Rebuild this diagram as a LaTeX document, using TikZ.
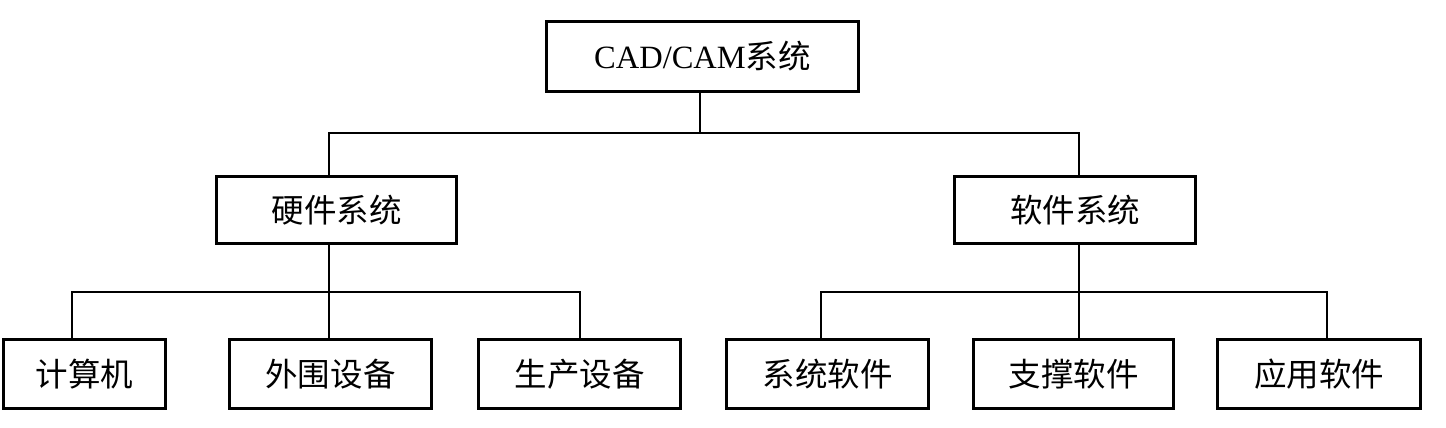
\documentclass[tikz,border=0pt]{standalone}
\usepackage{fontspec}
\setmainfont{Liberation Serif}
\newfontfamily\cjk{Noto Sans CJK SC}
\usepackage{tikz}

\tikzset{
  sysbox/.style={draw=black,line width=1.7pt,rectangle,fill=white,inner sep=0pt,
    font=\fontsize{18.5}{21}\selectfont\cjk},
  link/.style={draw=black,line width=1.1pt}
}

\begin{document}
\begin{tikzpicture}[x=0.02cm,y=-0.02cm]
\useasboundingbox (0,0) rectangle (1446,428);

\node[sysbox,minimum width=6.24cm,minimum height=1.40cm] (cad) at (702.5,56.5) {{\fontspec{Liberation Serif}CAD/CAM}系统};

\node[sysbox,minimum width=4.80cm,minimum height=1.34cm] (hw) at (336.5,210) {硬件系统};
\node[sysbox,minimum width=4.82cm,minimum height=1.34cm] (sw) at (1075,210) {软件系统};

\node[sysbox,minimum width=3.24cm,minimum height=1.38cm] (pc) at (84.5,374) {计算机};
\node[sysbox,minimum width=4.04cm,minimum height=1.38cm] (ew) at (330.5,374) {外围设备};
\node[sysbox,minimum width=4.04cm,minimum height=1.38cm] (pe) at (579.5,374) {生产设备};
\node[sysbox,minimum width=4.04cm,minimum height=1.38cm] (ss) at (827.5,374) {系统软件};
\node[sysbox,minimum width=4.00cm,minimum height=1.38cm] (sp) at (1073.5,374) {支撑软件};
\node[sysbox,minimum width=4.06cm,minimum height=1.38cm] (ap) at (1319,374) {应用软件};

\coordinate (cadj) at (700,133);
\coordinate (hwj) at (329,292);
\coordinate (swj) at (1079,292);
\coordinate (pcj) at (72,292);
\coordinate (pej) at (580,292);
\coordinate (ssj) at (821,292);
\coordinate (apj) at (1327,292);

\draw[link] (cad.south -| cadj) -- (cadj);
\draw[link] (hw.north -| hwj) |- (cadj) -| (sw.north -| swj);

\draw[link] (hw.south -| hwj) -- (ew.north -| hwj);
\draw[link] (pc.north -| pcj) -- (pcj) -- (pej) -- (pe.north -| pej);

\draw[link] (sw.south -| swj) -- (sp.north -| swj);
\draw[link] (ss.north -| ssj) -- (ssj) -- (apj) -- (ap.north -| apj);

\end{tikzpicture}
\end{document}
